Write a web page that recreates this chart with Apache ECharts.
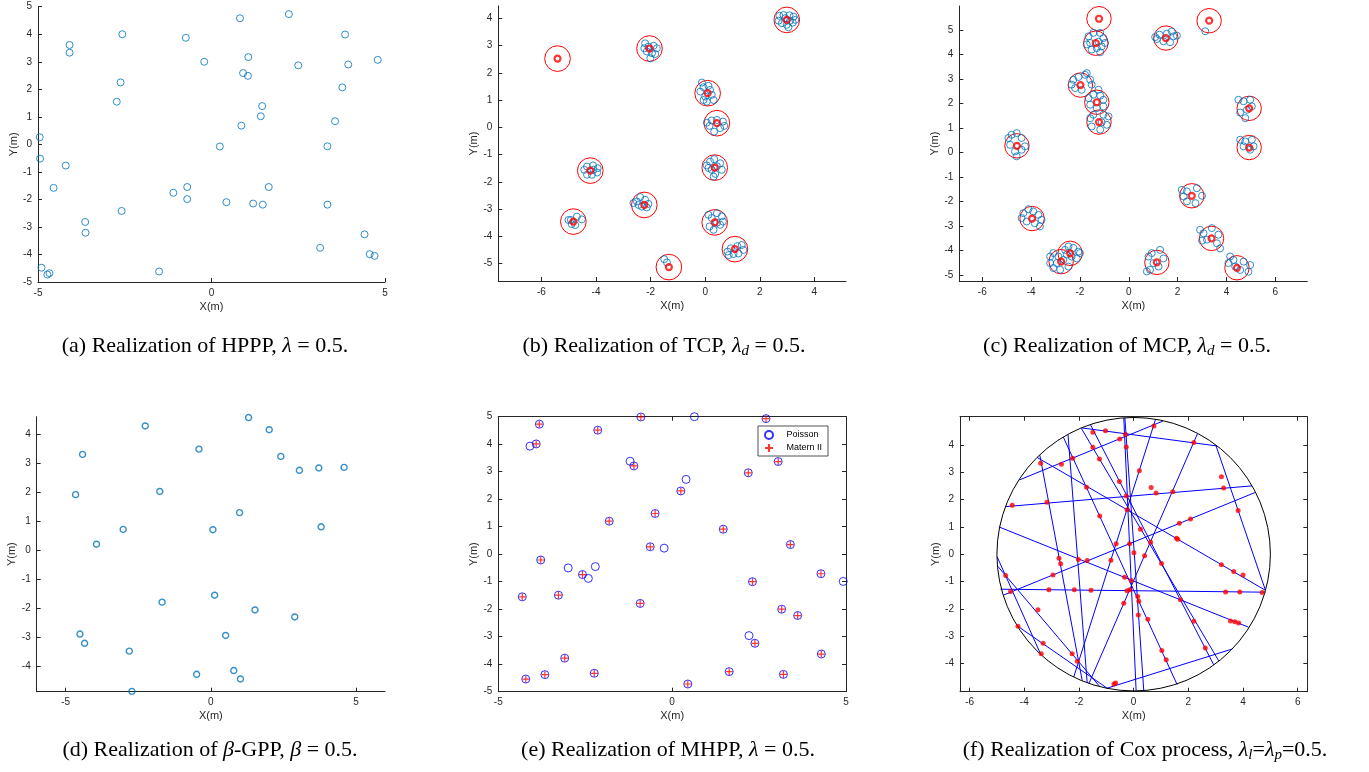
<!DOCTYPE html>
<html>
<head>
<meta charset="utf-8">
<script src="https://cdn.jsdelivr.net/npm/echarts@6/dist/echarts.min.js"></script>
<style>html,body{margin:0;padding:0;background:#fff}#c{width:1369px;height:772px}</style>
</head>
<body>
<div id="c"></div>
<script>
// ---------- DATA ----------
// (a) HPPP
const hpppPts = [[0.82,4.58],[2.23,4.73],[-4.09,3.61],[-4.09,3.33],[-2.57,4.0],[-0.74,3.87],[-0.21,3.0],[1.06,3.17],[0.91,2.59],[1.05,2.49],[2.50,2.87],[3.85,3.99],[3.94,2.90],[4.79,3.07],[3.77,2.07],[-2.62,2.25],[-2.73,1.55],[1.46,1.39],[1.42,1.02],[0.86,0.68],[3.56,0.84],[-4.95,0.26],[-4.94,-0.52],[0.24,-0.08],[3.34,-0.07],[-4.20,-0.77],[-4.55,-1.58],[-1.10,-1.76],[-0.70,-1.55],[-0.70,-1.99],[0.43,-2.10],[1.20,-2.15],[1.48,-2.19],[1.65,-1.55],[3.34,-2.19],[-2.59,-2.42],[-3.64,-2.82],[-3.63,-3.21],[4.41,-3.27],[3.13,-3.76],[4.56,-3.99],[4.70,-4.05],[-4.90,-4.48],[-4.73,-4.73],[-4.67,-4.68],[-1.51,-4.62]];

// (b) TCP
const tcpParents = [[2.99,3.94],[-2.04,2.89],[-5.41,2.52],[0.09,1.25],[0.43,0.15],[0.35,-1.48],[-4.21,-1.59],[-2.23,-2.85],[-4.83,-3.46],[0.35,-3.49],[1.09,-4.47],[-1.33,-5.13]];
const tcpDaughters = [[2.72,4.09],[2.87,4.12],[3.09,4.11],[3.24,4.06],[2.69,3.91],[2.81,3.82],[2.99,3.76],[3.21,3.84],[3.30,3.94],[2.93,4.0],[3.11,3.91],[3.05,3.67],
 [-2.20,3.08],[-2.08,2.96],[-1.89,2.99],[-1.77,2.90],[-2.14,2.78],[-1.95,2.72],[-2.01,2.53],[-1.83,2.69],[-2.23,2.90],
 [-0.12,1.64],[-0.06,1.47],[-0.18,1.31],[0,1.13],[0.18,1.37],[0.24,1.19],[0.06,0.94],[0.31,1.0],[-0.06,1.0],[0.12,1.52],
 [0.06,0.17],[0.24,0.25],[0.43,0.27],[0.65,0.21],[0.70,0.05],[0.33,-0.16],[0.55,-0.03],[0.16,0.05],
 [0.06,-1.40],[0.18,-1.26],[0.33,-1.17],[0.55,-1.32],[0.61,-1.56],[0.37,-1.71],[0.24,-1.56],[0.12,-1.49],[0.43,-1.43],[0.31,-1.81],
 [-4.43,-1.56],[-4.33,-1.44],[-4.11,-1.40],[-3.94,-1.50],[-3.96,-1.66],[-4.15,-1.74],[-4.33,-1.74],[-4.09,-1.56],
 [-2.50,-2.72],[-2.38,-2.56],[-2.20,-2.66],[-2.08,-2.81],[-2.32,-2.91],[-2.44,-2.85],[-2.14,-2.94],[-2.63,-2.78],
 [-5.01,-3.40],[-4.89,-3.55],[-4.70,-3.28],[-4.52,-3.38],[-4.76,-3.59],[-4.92,-3.40],
 [0.12,-3.21],[0.24,-3.33],[0.43,-3.15],[0.61,-3.27],[0.55,-3.58],[0.31,-3.76],[0.16,-3.64],[0.43,-3.50],[0.65,-3.46],
 [0.82,-4.56],[0.94,-4.44],[1.18,-4.36],[1.34,-4.32],[1.40,-4.50],[1.22,-4.63],[1.04,-4.65],[0.86,-4.69],
 [-1.50,-4.84],[-1.40,-4.96]];
const tcpRadius = 0.47;

// (c) MCP
const mcpParents = [[-1.22,5.46],[3.29,5.38],[-1.35,4.46],[1.52,4.67],[-1.98,2.75],[-1.31,2.05],[-1.22,1.24],[4.93,1.80],[-4.58,0.27],[4.93,0.20],[2.58,-1.77],[-3.96,-2.70],[3.39,-3.51],[-2.40,-4.12],[-2.77,-4.46],[1.15,-4.49],[4.43,-4.71]];
const mcpDaughters = [[-1.65,4.74],[-1.45,4.88],[-1.17,4.88],[-1.04,4.67],[-1.58,4.47],[-1.31,4.26],[-1.11,4.33],[-0.97,4.47],[-1.52,4.20],[-1.17,4.09],[-1.24,4.52],[-1.72,4.41],
 [1.08,4.71],[1.26,4.81],[1.56,4.85],[1.76,4.94],[1.83,4.74],[1.42,4.54],[1.69,4.50],[1.15,4.63],[1.97,4.77],
 [3.13,4.95],
 [-2.27,2.97],[-2.06,3.08],[-1.79,3.17],[-1.58,2.97],[-1.72,3.24],[-2.20,2.63],[-1.93,2.56],[-1.52,2.77],[-2.34,2.77],
 [-1.65,2.22],[-1.45,2.36],[-1.17,2.32],[-1.04,2.15],[-1.58,1.95],[-1.31,1.81],[-1.04,1.88],[-1.24,2.56],
 [-1.58,1.40],[-1.45,1.54],[-1.04,1.54],[-0.83,1.47],[-0.90,1.13],[-1.17,0.93],[-1.52,1.06],[-1.11,1.23],
 [4.49,2.15],[4.70,2.09],[4.97,2.15],[4.84,1.74],[4.56,1.63],[4.77,1.40],[5.04,1.88],
 [-4.93,0.59],[-4.80,0.72],[-4.59,0.79],[-4.39,0.59],[-4.86,0.31],[-4.66,0.04],[-4.39,0.11],[-4.25,0.25],[-4.59,-0.16],
 [4.56,0.52],[4.77,0.45],[5.04,0.52],[4.97,0.11],[4.70,0.25],[5.11,0.25],
 [2.17,-1.53],[2.38,-1.59],[2.79,-1.46],[3.0,-1.77],[2.73,-2.07],[2.38,-2.0],[2.25,-1.80],
 [-4.32,-2.48],[-4.11,-2.32],[-3.91,-2.41],[-3.70,-2.55],[-3.57,-2.75],[-3.85,-2.89],[-4.18,-2.82],[-4.39,-2.68],[-3.64,-3.02],
 [2.92,-3.16],[3.06,-3.30],[3.40,-3.09],[3.67,-3.36],[3.61,-3.71],[3.74,-3.92],[3.20,-3.56],[3.0,-3.60],
 [-3.22,-4.25],[-3.09,-4.11],[-2.88,-4.25],[-2.61,-3.98],[-2.47,-3.84],[-2.27,-3.90],[-2.06,-4.05],[-2.95,-4.52],[-2.68,-4.39],[-2.47,-4.66],[-3.22,-4.52],[-3.09,-4.72],[-2.81,-4.79],[-2.34,-4.25],[-2.13,-4.33],[-2.54,-4.17],[-2.0,-4.11],
 [0.81,-4.25],[0.94,-4.11],[1.28,-3.98],[1.42,-4.33],[1.22,-4.66],[0.87,-4.79],[1.01,-4.52],[0.74,-4.86],
 [4.15,-4.25],[4.29,-4.39],[4.70,-4.46],[4.97,-4.60],[4.90,-4.87],[4.36,-4.66],[4.56,-4.80],[4.08,-4.52]];
const mcpRadius = 0.5;

// (d) beta-GPP
const gppPts = [[1.30,4.57],[-2.26,4.28],[2.01,4.15],[-0.41,3.48],[-4.42,3.30],[2.41,3.23],[3.05,2.75],[3.72,2.83],[4.59,2.85],[-4.66,1.91],[-1.76,2.02],[0.99,1.29],[-3.02,0.71],[0.07,0.70],[3.80,0.80],[-3.94,0.20],[0.13,-1.56],[-1.68,-1.80],[1.52,-2.07],[2.89,-2.31],[-4.51,-2.90],[-4.35,-3.22],[0.51,-2.95],[-2.81,-3.49],[-0.49,-4.29],[0.79,-4.16],[1.02,-4.45],[-2.72,-4.88]];

// (e) MHPP
const maternPts = [[-3.82,4.73],[-3.91,4.01],[-2.14,4.51],[-0.90,4.99],[2.70,4.93],[-1.10,3.21],[2.19,2.96],[3.05,3.37],[0.25,2.30],[-0.49,1.48],[-1.81,1.20],[1.47,0.91],[-0.63,0.27],[3.40,0.35],[-3.78,-0.21],[-2.58,-0.74],[4.28,-0.71],[2.31,-1.00],[-4.31,-1.55],[-3.27,-1.49],[-0.92,-1.79],[3.15,-2.00],[3.61,-2.23],[2.38,-3.24],[-3.09,-3.78],[4.29,-3.63],[-3.66,-4.38],[-2.24,-4.33],[1.64,-4.27],[3.20,-4.37],[-4.21,-4.54],[0.45,-4.72]];
const poissonOnly = [[-4.09,3.93],[-1.21,3.38],[0.40,2.72],[-0.23,0.22],[-2.99,-0.50],[-2.41,-0.88],[-2.21,-0.45],[4.92,-0.99],[2.21,-2.96],[0.64,5.0]];

// (f) Cox process: chords [x1,y1,x2,y2] and points on them
const coxRadius = 5;
const coxLines = [
 [-0.32,4.99,0.37,-4.99],[-0.36,4.99,0.09,-4.99],[-1.90,4.62,3.05,3.96],[-1.91,4.60,3.11,-3.90],
 [-1.58,4.74,2.93,-4.05],[0.80,4.93,-2.19,-4.49],[1.07,4.87,-4.17,2.72],[-4.68,1.74,4.33,2.50],
 [-3.53,3.54,4.82,-1.32],[-2.57,4.28,1.59,-4.77],[-3.43,3.62,-1.88,-4.63],[-2.40,4.38,-1.70,-4.70],
 [-4.93,1.00,4.20,-2.67],[-4.99,-0.10,-3.40,-3.66],[-4.97,-0.44,-1.25,-4.83],[-4.26,-2.62,-0.97,-4.90],
 [-4.77,-1.50,4.45,2.26],[-0.97,-4.90,3.60,-3.47],[2.33,4.40,-1.64,-4.74],[3.0,4.0,4.82,-1.32],
 [-4.87,-1.28,4.82,-1.39]];
const coxPoints = [[0.74,4.69],[-1.03,4.52],[-1.49,4.46],[-0.30,4.38],[-0.51,4.21],[-1.49,3.91],[-0.27,3.92],[2.20,4.09],[-3.40,3.33],[-2.64,3.29],[-2.23,3.51],[-1.25,3.48],[0.21,3.05],[3.21,2.83],[-0.52,2.66],[0.64,2.44],[0.82,2.24],[1.43,2.28],[3.29,2.42],[-1.72,2.45],[-0.27,2.13],[-0.24,1.63],[-3.17,1.90],[-4.44,1.79],[3.82,1.60],[-1.24,1.40],[2.08,1.29],[1.67,1.13],[0.25,0.91],[1.57,0.58],[1.61,0.55],[0.62,0.44],[-0.64,0.38],[-0.15,0.38],[0.01,0.05],[0.40,-0.06],[-2.73,-0.15],[-2.67,-0.35],[-2.02,-0.19],[-1.70,-0.23],[-0.83,-0.22],[1.02,-0.34],[3.21,-0.39],[3.66,-0.63],[4.00,-0.76],[-2.95,-0.76],[-0.33,-0.84],[-0.09,-0.96],[-4.68,-0.78],[-4.50,-1.36],[-3.10,-1.30],[-2.17,-1.30],[-1.56,-1.32],[-0.24,-1.34],[-0.14,-1.30],[3.36,-1.38],[3.88,-1.38],[4.70,-1.40],[0.15,-1.55],[0.19,-1.72],[-0.36,-1.79],[1.71,-1.67],[-3.50,-2.03],[0.17,-2.22],[0.52,-2.38],[2.20,-2.45],[3.54,-2.44],[3.70,-2.47],[3.84,-2.52],[-4.23,-2.64],[-3.31,-3.26],[-2.25,-3.64],[-3.38,-3.64],[-2.06,-3.92],[1.03,-3.52],[1.19,-3.86],[2.62,-3.43],[-0.72,-4.75],[-0.66,-4.71]];

// tick values
const ticksA_x = [-5,0,5], ticksA_y = [-5,-4,-3,-2,-1,0,1,2,3,4,5];
const ticksB_x = [-6,-4,-2,0,2,4], ticksB_y = [-5,-4,-3,-2,-1,0,1,2,3,4];
const ticksC_x = [-6,-4,-2,0,2,4,6], ticksC_y = [-5,-4,-3,-2,-1,0,1,2,3,4,5];
const ticksD_x = [-5,0,5], ticksD_y = [-4,-3,-2,-1,0,1,2,3,4];
const ticksE_x = [-5,0,5], ticksE_y = [-5,-4,-3,-2,-1,0,1,2,3,4,5];
const ticksF_x = [-6,-4,-2,0,2,4,6], ticksF_y = [-4,-3,-2,-1,0,1,2,3,4];

// ---------- CHART ----------
const AX = '#262626';
const SANS = 'Liberation Sans, Arial, Helvetica, sans-serif';
const grids = [
  {left:38, top:6.7, width:347, height:275.3},
  {left:498.3, top:6, width:347.7, height:275},
  {left:959.3, top:6, width:348, height:275},
  {left:36.7, top:416.7, width:348.3, height:275},
  {left:498.3, top:416.7, width:347.7, height:275},
  {left:960, top:416.7, width:347.3, height:275}
];
const ranges = [
  {x:[-5,5], y:[-5,5], xt:ticksA_x, yt:ticksA_y, box:false},
  {x:[-7.58,5.16], y:[-5.64,4.45], xt:ticksB_x, yt:ticksB_y, box:false},
  {x:[-6.94,7.31], y:[-5.25,5.98], xt:ticksC_x, yt:ticksC_y, box:false},
  {x:[-6,6], y:[-4.89,4.6], xt:ticksD_x, yt:ticksD_y, box:false},
  {x:[-5,5], y:[-5,5], xt:ticksE_x, yt:ticksE_y, box:true},
  {x:[-6.35,6.35], y:[-5.03,5.03], xt:ticksF_x, yt:ticksF_y, box:true}
];
const xAxes = [], yAxes = [];
const mainX = [], mainY = [];
ranges.forEach((r, g) => {
  mainX.push(xAxes.length);
  xAxes.push({
    gridIndex:g, type:'value', min:r.x[0], max:r.x[1], position:'bottom',
    axisLine:{show:true, onZero:false, lineStyle:{color:AX, width:1}},
    axisTick:{show:true, inside:true, length:4, customValues:r.xt, lineStyle:{color:AX}},
    axisLabel:{show:true, customValues:r.xt, color:AX, fontSize:10, fontFamily:SANS, margin:6},
    splitLine:{show:false},
    name:'X(m)', nameLocation:'middle', nameGap:19,
    nameTextStyle:{color:AX, fontSize:11, fontFamily:SANS}
  });
  mainY.push(yAxes.length);
  yAxes.push({
    gridIndex:g, type:'value', min:r.y[0], max:r.y[1], position:'left',
    axisLine:{show:true, onZero:false, lineStyle:{color:AX, width:1}},
    axisTick:{show:true, inside:true, length:4, customValues:r.yt, lineStyle:{color:AX}},
    axisLabel:{show:true, customValues:r.yt, color:AX, fontSize:10, fontFamily:SANS, margin:6},
    splitLine:{show:false},
    name:'Y(m)', nameLocation:'middle', nameGap:17, nameRotate:90,
    nameTextStyle:{color:AX, fontSize:11, fontFamily:SANS}
  });
  if (r.box) {
    xAxes.push({
      gridIndex:g, type:'value', min:r.x[0], max:r.x[1], position:'top',
      axisLine:{show:true, onZero:false, lineStyle:{color:AX, width:1}},
      axisTick:{show:true, inside:true, length:4, customValues:r.xt, lineStyle:{color:AX}},
      axisLabel:{show:false}, splitLine:{show:false}
    });
    yAxes.push({
      gridIndex:g, type:'value', min:r.y[0], max:r.y[1], position:'right',
      axisLine:{show:true, onZero:false, lineStyle:{color:AX, width:1}},
      axisTick:{show:true, inside:true, length:4, customValues:r.yt, lineStyle:{color:AX}},
      axisLabel:{show:false}, splitLine:{show:false}
    });
  }
});

const BLUE = '#0072BD';
function hollow(color, w) { return {color:'transparent', borderColor:color, borderWidth:w}; }
function circleSeries(g, data, color, w, name) {
  return {
    type:'custom', name:name, xAxisIndex:mainX[g], yAxisIndex:mainY[g], data:data, silent:true,
    renderItem:function(params, api){
      const c = api.coord([api.value(0), api.value(1)]);
      const r = api.size([api.value(2), 0])[0];
      return {type:'circle', shape:{cx:c[0], cy:c[1], r:r}, style:{fill:'none', stroke:color, lineWidth:w}};
    }
  };
}
const series = [];
// (a)
series.push({type:'scatter', xAxisIndex:mainX[0], yAxisIndex:mainY[0], data:hpppPts, symbol:'circle', symbolSize:7, itemStyle:hollow(BLUE,1), silent:true});
// (b)
series.push({type:'scatter', xAxisIndex:mainX[1], yAxisIndex:mainY[1], data:tcpDaughters, symbol:'circle', symbolSize:7, itemStyle:hollow(BLUE,1), silent:true});
series.push({type:'scatter', xAxisIndex:mainX[1], yAxisIndex:mainY[1], data:tcpParents, symbol:'circle', symbolSize:6, itemStyle:hollow('#ff0000',2.2), silent:true});
series.push(circleSeries(1, tcpParents.map(p => [p[0], p[1], tcpRadius]), '#ff0000', 1));
// (c)
series.push({type:'scatter', xAxisIndex:mainX[2], yAxisIndex:mainY[2], data:mcpDaughters, symbol:'circle', symbolSize:7, itemStyle:hollow(BLUE,1), silent:true});
series.push({type:'scatter', xAxisIndex:mainX[2], yAxisIndex:mainY[2], data:mcpParents, symbol:'circle', symbolSize:6, itemStyle:hollow('#ff0000',2.2), silent:true});
series.push(circleSeries(2, mcpParents.map(p => [p[0], p[1], mcpRadius]), '#ff0000', 1));
// (d)
series.push({type:'scatter', xAxisIndex:mainX[3], yAxisIndex:mainY[3], data:gppPts, symbol:'circle', symbolSize:6, itemStyle:hollow(BLUE,1.4), silent:true});
// (e)
series.push({type:'scatter', name:'Poisson', xAxisIndex:mainX[4], yAxisIndex:mainY[4], data:maternPts.concat(poissonOnly), symbol:'circle', symbolSize:8, itemStyle:hollow('#0000ff',1), silent:true});
series.push({type:'scatter', name:'Matern II', xAxisIndex:mainX[4], yAxisIndex:mainY[4], data:maternPts, symbol:'path://M5,0 L5,10 M0,5 L10,5', symbolSize:7, itemStyle:hollow('#ff0000',1.2), silent:true});
// (f)
series.push({
  type:'custom', xAxisIndex:mainX[5], yAxisIndex:mainY[5], data:coxLines, silent:true,
  renderItem:function(params, api){
    const p1 = api.coord([api.value(0), api.value(1)]);
    const p2 = api.coord([api.value(2), api.value(3)]);
    return {type:'line', shape:{x1:p1[0], y1:p1[1], x2:p2[0], y2:p2[1]}, style:{stroke:'#0000ff', lineWidth:1}};
  }
});
series.push(circleSeries(5, [[0,0,coxRadius]], '#000000', 1));
series.push({type:'scatter', xAxisIndex:mainX[5], yAxisIndex:mainY[5], data:coxPoints, symbol:'circle', symbolSize:5, itemStyle:{color:'#ff0000'}, silent:true});

// captions
const SERIF = 'Liberation Serif, Times New Roman, serif';
const FS = 22;
const rich = {
  n:{fontFamily:SERIF, fontSize:FS, color:'#000'},
  i:{fontFamily:SERIF, fontSize:FS, fontStyle:'italic', color:'#000'},
  s:{fontFamily:SERIF, fontSize:15, fontStyle:'italic', color:'#000', padding:[10,0,0,0]}
};
function cap(x, y, text) {
  return {type:'text', x:x, y:y, silent:true, style:{text:text, rich:rich, align:'center', verticalAlign:'middle', font:FS + 'px ' + SERIF, fill:'#000'}};
}
const graphics = [
  cap(205, 346, '{n|(a) Realization of HPPP, }{i|λ}{n| = 0.5.}'),
  cap(664, 346, '{n|(b) Realization of TCP, }{i|λ}{s|d}{n| = 0.5.}'),
  cap(1127, 346, '{n|(c) Realization of MCP, }{i|λ}{s|d}{n| = 0.5.}'),
  cap(210, 750, '{n|(d) Realization of }{i|β}{n|-GPP, }{i|β}{n| = 0.5.}'),
  cap(668, 750, '{n|(e) Realization of MHPP, }{i|λ}{n| = 0.5.}'),
  cap(1145, 750, '{n|(f) Realization of Cox process, }{i|λ}{s|l}{n|=}{i|λ}{s|p}{n|=0.5.}')
];

const chart = echarts.init(document.getElementById('c'), null, {renderer:'canvas'});
chart.setOption({
  animation:false,
  backgroundColor:'#fff',
  grid:grids,
  xAxis:xAxes,
  yAxis:yAxes,
  legend:{
    data:['Poisson','Matern II'], orient:'vertical', left:758, top:426,
    padding:[4,6,3,6], itemGap:3, itemWidth:25, itemHeight:8,
    borderColor:AX, borderWidth:0.8, backgroundColor:'#fff', borderRadius:0,
    textStyle:{fontSize:9, fontFamily:SANS, color:'#000'}, selectedMode:false
  },
  series:series,
  graphic:graphics
});
</script>
</body>
</html>
